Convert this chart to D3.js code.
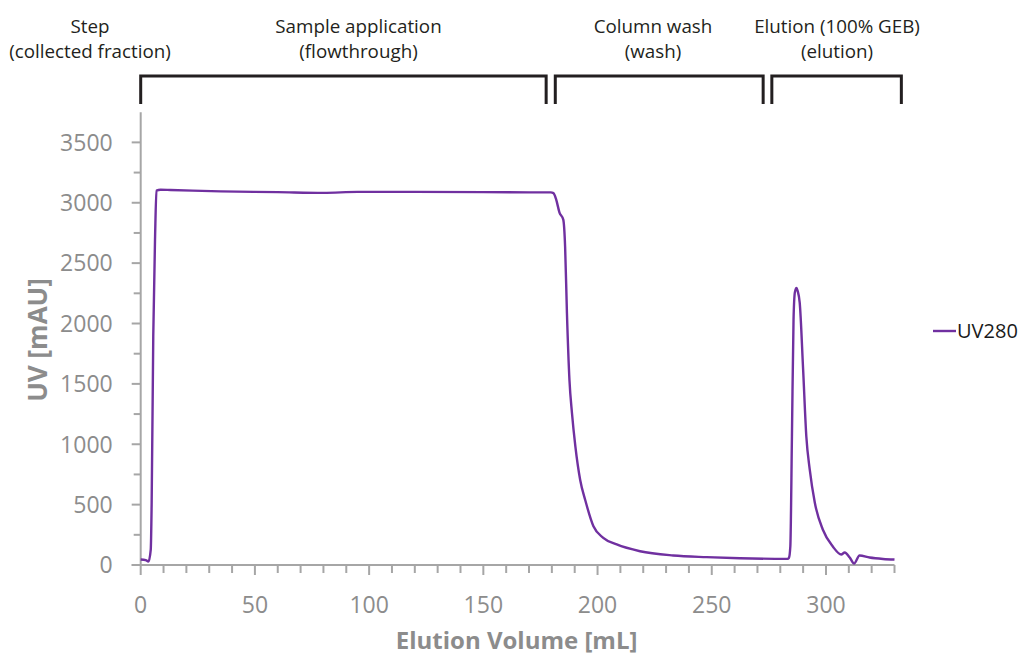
<!DOCTYPE html>
<html>
<head>
<meta charset="utf-8">
<script src="https://cdn.jsdelivr.net/npm/d3@7"></script>
<style>
  html, body { margin: 0; padding: 0; background: #fff; }
  svg { display: block; }
</style>
</head>
<body>
<svg id="chart" width="1022" height="657"></svg>
<script>
// ---- data ----
const volume = [0, 2.2, 3.4, 4.4, 4.8, 5.5, 6.3, 6.9, 8.7, 13, 35, 60, 80, 95, 120, 150, 170, 179.5,
  180.7, 181.9, 183.3, 185, 185.8, 186.6, 187.7, 188.8, 190.3, 192.4, 194.6, 198.2, 202.5, 208.4, 218.6,
  233.1, 247.7, 262.3, 283.2, 283.8, 284.4, 285.1, 285.8, 286.4, 287.1, 287.6, 288.5, 290, 291.4, 292.9,
  295.1, 298.6, 303, 306.7, 308.2, 310.4, 312.3, 314.7, 319.1, 325, 330];
const uv280 = [46, 40, 29, 128, 515, 1894, 2722, 3100, 3108, 3106, 3094, 3088, 3082, 3090, 3090, 3088, 3086, 3086,
  3080, 3026, 2921, 2860, 2636, 2087, 1532, 1259, 980, 704, 538, 321, 225, 170, 114,
  79, 65, 56, 51, 60, 155, 1066, 2032, 2260, 2295, 2270, 2173, 1618, 1064, 790,
  517, 294, 153, 87, 103, 62, 12, 79, 62, 50, 45];

const xTicks = [0, 50, 100, 150, 200, 250, 300];
const yTicks = [0, 500, 1000, 1500, 2000, 2500, 3000, 3500];

const stepNames = ["Sample application", "Column wash", "Elution (100% GEB)"];
const stepFractions = ["(flowthrough)", "(wash)", "(elution)"];
const stepStart = [0, 181.5, 276.3];
const stepEnd = [177.5, 272.5, 333];

// ---- layout ----
const svg = d3.select("#chart");
const axisColor = "#a6a6a6";
const labelColor = "#8c8c8c";
const font = "'Open Sans', 'Noto Sans', sans-serif";

const x = d3.scaleLinear().domain([0, 330]).range([140.7, 894.5]);
const y = d3.scaleLinear().domain([0, 3750]).range([565, 112.2]);

// y axis
const yAxis = svg.append("g").attr("transform", `translate(${x(0)},0)`);
yAxis.append("line").attr("x1", 0).attr("x2", 0).attr("y1", y(3750)).attr("y2", y(0))
  .attr("stroke", axisColor).attr("stroke-width", 2);
const yMinor = d3.range(250, 3750, 500);
yAxis.selectAll("line.minor").data(yMinor).join("line").attr("class", "minor")
  .attr("x1", -7).attr("x2", 0).attr("y1", d => y(d)).attr("y2", d => y(d))
  .attr("stroke", axisColor).attr("stroke-width", 2);
yAxis.selectAll("line.major").data(yTicks).join("line").attr("class", "major")
  .attr("x1", -9).attr("x2", 0).attr("y1", d => y(d)).attr("y2", d => y(d))
  .attr("stroke", axisColor).attr("stroke-width", 2);
yAxis.selectAll("text").data(yTicks).join("text")
  .attr("x", -28).attr("y", d => y(d)).attr("dy", "0.36em")
  .attr("text-anchor", "end").attr("font-family", font).attr("font-size", 23)
  .attr("fill", labelColor).text(d => d);

// x axis
const xAxis = svg.append("g").attr("transform", `translate(0,${y(0)})`);
xAxis.append("line").attr("x1", x(0) - 9).attr("x2", x(330)).attr("y1", 0).attr("y2", 0)
  .attr("stroke", axisColor).attr("stroke-width", 2);
const xMinor = d3.range(10, 331, 10).filter(v => v % 50 !== 0);
xAxis.selectAll("line.minor").data(xMinor).join("line").attr("class", "minor")
  .attr("x1", d => x(d)).attr("x2", d => x(d)).attr("y1", 0).attr("y2", 8)
  .attr("stroke", axisColor).attr("stroke-width", 2);
xAxis.selectAll("line.major").data(xTicks).join("line").attr("class", "major")
  .attr("x1", d => x(d)).attr("x2", d => x(d)).attr("y1", 0).attr("y2", 10)
  .attr("stroke", axisColor).attr("stroke-width", 2);
xAxis.selectAll("text").data(xTicks).join("text")
  .attr("x", d => x(d)).attr("y", 48)
  .attr("text-anchor", "middle").attr("font-family", font).attr("font-size", 23)
  .attr("fill", labelColor).text(d => d);

// axis titles
svg.append("text").attr("x", (x(0) + x(330)) / 2 - 1).attr("y", 649)
  .attr("text-anchor", "middle").attr("font-family", font).attr("font-size", 24)
  .attr("font-weight", "bold").attr("fill", labelColor).text("Elution Volume [mL]");
svg.append("text").attr("transform", `translate(47,${340}) rotate(-90)`)
  .attr("text-anchor", "middle").attr("font-family", font).attr("font-size", 26)
  .attr("font-weight", "bold").attr("fill", labelColor).text("UV [mAU]");

// line
const pts = volume.map((v, i) => [v, uv280[i]]);
const line = d3.line().x(d => x(d[0])).y(d => y(d[1])).curve(d3.curveMonotoneX);
svg.append("path").datum(pts).attr("d", line)
  .attr("fill", "none").attr("stroke", "#7030a0").attr("stroke-width", 2.4)
  .attr("stroke-linejoin", "round");

// legend
svg.append("line").attr("x1", 933).attr("x2", 956).attr("y1", 331).attr("y2", 331)
  .attr("stroke", "#7030a0").attr("stroke-width", 2.4);
svg.append("text").attr("x", 957).attr("y", 331).attr("dy", "0.36em")
  .attr("font-family", font).attr("font-size", 20).attr("fill", "#1a1a1a").text("UV280");

// step annotations
const topFont = 18.8;
const labelCenters = [358.5, 653, 837];
svg.append("text").attr("x", 90).attr("y", 33).attr("text-anchor", "middle")
  .attr("font-family", font).attr("font-size", topFont).attr("fill", "#231f20").text("Step");
svg.append("text").attr("x", 90).attr("y", 58).attr("text-anchor", "middle")
  .attr("font-family", font).attr("font-size", topFont).attr("fill", "#231f20").text("(collected fraction)");

const br = svg.append("g");
stepNames.forEach((name, i) => {
  const x0 = x(stepStart[i]), x1 = x(stepEnd[i]);
  const cx = labelCenters[i];
  br.append("path")
    .attr("d", `M${x0},104 L${x0},76 L${x1},76 L${x1},104`)
    .attr("fill", "none").attr("stroke", "#231f20").attr("stroke-width", 3);
  br.append("text").attr("x", cx).attr("y", 33).attr("text-anchor", "middle")
    .attr("font-family", font).attr("font-size", topFont).attr("fill", "#231f20").text(name);
  br.append("text").attr("x", cx).attr("y", 58).attr("text-anchor", "middle")
    .attr("font-family", font).attr("font-size", topFont).attr("fill", "#231f20").text(stepFractions[i]);
});
</script>
</body>
</html>
